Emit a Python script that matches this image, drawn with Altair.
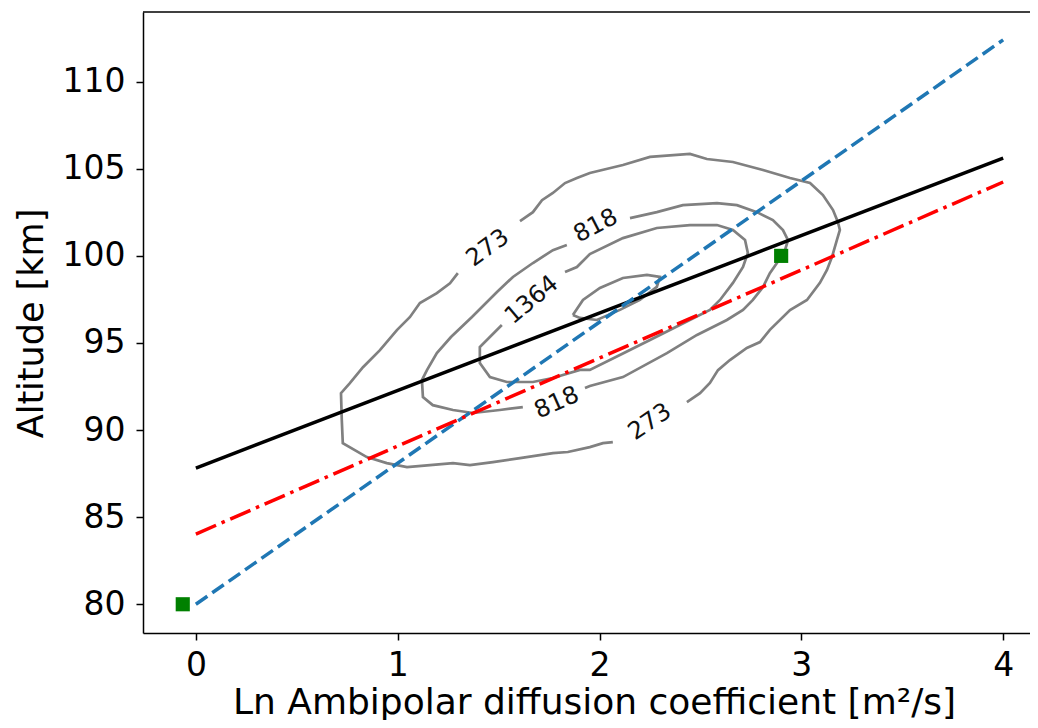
import altair as alt
import pandas as pd

# ---- axis ranges ----
X_MIN, X_MAX = -0.262, 4.133
Y_MIN, Y_MAX = 78.35, 114.0
x_ticks = [0, 1, 2, 3, 4]
y_ticks = [80, 85, 90, 95, 100, 105, 110]

# ---- fitted lines ----
line_x = [0.0, 4.0]
black_y = [87.82, 105.61]
red_y = [84.03, 104.24]
blue_y = [80.0, 112.4]

# ---- green square markers ----
green_x = [-0.065, 2.9]
green_y = [80.0, 100.0]

# ---- contour level 273 (outer), two pieces split by labels ----
c273a_x = [1.606, 1.670, 1.715, 1.769, 1.829, 1.888, 1.952, 2.116, 2.250, 2.448, 2.532, 2.661,
           2.810, 2.944, 3.043, 3.107, 3.157, 3.181, 3.191, 3.176, 3.152, 3.127, 3.092, 3.028,
           2.944, 2.844, 2.795, 2.730, 2.646, 2.587, 2.547, 2.498, 2.433]
c273a_y = [102.00, 102.51, 103.20, 103.61, 104.18, 104.47, 104.76, 105.22, 105.68, 105.85, 105.56,
           105.39, 104.93, 104.47, 104.18, 103.49, 102.63, 101.95, 101.49, 100.91, 99.94, 99.19,
           98.45, 97.47, 96.89, 95.75, 95.05, 94.71, 94.02, 93.44, 92.70, 92.12, 91.61]
c273b_x = [2.066, 2.017, 1.952, 1.843, 1.769, 1.606, 1.472, 1.358, 1.274, 1.160, 1.046, 0.946,
           0.847, 0.728, 0.723, 0.719, 0.763, 0.828, 0.912, 0.996, 1.060, 1.110, 1.194, 1.259, 1.298]
c273b_y = [89.31, 89.25, 89.02, 88.74, 88.68, 88.39, 88.16, 87.99, 88.10, 87.99, 87.87, 88.10,
           88.45, 89.25, 90.57, 92.12, 92.70, 93.61, 94.59, 95.74, 96.48, 97.29, 97.86, 98.43, 99.01]

# ---- contour level 818, two pieces ----
c818a_x = [2.151, 2.284, 2.413, 2.582, 2.681, 2.780, 2.859, 2.909, 2.934, 2.919, 2.879, 2.844,
           2.810, 2.760, 2.711, 2.631, 2.483, 2.334, 2.116, 1.952, 1.928]
c818a_y = [102.17, 102.51, 102.91, 103.03, 102.91, 102.51, 102.05, 101.48, 100.91, 100.33, 99.59,
           99.01, 98.21, 97.47, 96.90, 96.32, 95.46, 94.42, 93.04, 92.53, 92.41]
c818b_x = [1.620, 1.506, 1.373, 1.274, 1.174, 1.125, 1.120, 1.145, 1.194, 1.264, 1.368, 1.492,
           1.571, 1.670, 1.769, 1.838]
c818b_y = [91.32, 91.15, 90.98, 91.15, 91.43, 91.89, 92.87, 93.44, 94.42, 95.34, 96.49, 97.93,
           98.79, 99.59, 100.33, 100.62]

# ---- contour level 1364 ----
c1364_x = [1.829, 1.888, 1.952, 2.116, 2.284, 2.448, 2.582, 2.661, 2.721, 2.735, 2.711, 2.661,
           2.597, 2.547, 2.398, 2.250, 2.101, 1.952, 1.903, 1.769, 1.670, 1.541, 1.457, 1.407,
           1.407, 1.516]
c1364_y = [99.07, 99.36, 100.10, 101.02, 101.60, 101.77, 101.77, 101.49, 100.91, 100.17, 99.36,
           98.45, 97.47, 96.90, 96.03, 95.17, 94.31, 93.45, 93.45, 92.99, 92.76, 92.76, 93.04,
           93.85, 94.76, 96.03]

# ---- innermost (unlabelled) contour ----
cin_x = [1.868, 1.918, 2.002, 2.116, 2.235, 2.299, 2.284, 2.200, 2.101, 1.987, 1.903, 1.868]
cin_y = [96.61, 97.47, 98.16, 98.73, 98.91, 98.79, 98.22, 97.47, 96.90, 96.32, 96.44, 96.61]

# ---- contour labels ----
lab_text = ["273", "818", "1364", "818", "273"]
lab_x = [1.447, 1.982, 1.665, 1.789, 2.250]
lab_y = [100.45, 101.71, 97.46, 91.55, 90.46]
lab_angle = [324, 333, 320, 336, 326]

# ---------------- build tables ----------------
lines_df = pd.DataFrame({"x": line_x + line_x + line_x,
                         "y": black_y + red_y + blue_y,
                         "s": ["black"] * 2 + ["red"] * 2 + ["blue"] * 2})
green_df = pd.DataFrame({"x": green_x, "y": green_y})

rows = []
for name, xs, ys in [("273a", c273a_x, c273a_y), ("273b", c273b_x, c273b_y),
                     ("818a", c818a_x, c818a_y), ("818b", c818b_x, c818b_y),
                     ("1364", c1364_x, c1364_y), ("inner", cin_x, cin_y)]:
    for i, (a, b) in enumerate(zip(xs, ys)):
        rows.append({"seg": name, "i": i, "x": a, "y": b})
cont_df = pd.DataFrame(rows)
lab_df = pd.DataFrame({"t": lab_text, "x": lab_x, "y": lab_y, "a": lab_angle})
top_df = pd.DataFrame({"y": [Y_MAX]})

FONT = "DejaVu Sans"

xenc = alt.X("x:Q",
             scale=alt.Scale(domain=[X_MIN, X_MAX], nice=False, zero=False),
             axis=alt.Axis(values=x_ticks, format="d", grid=False,
                           title="Ln Ambipolar diffusion coefficient [m²/s]",
                           labelFontSize=33, titleFontSize=36, labelPadding=9,
                           tickSize=7, tickWidth=1.5, domainWidth=1.5,
                           titleX=451, titleY=80, titleBaseline="alphabetic",
                           titleAlign="center", labelFlush=False))
yenc = alt.Y("y:Q",
             scale=alt.Scale(domain=[Y_MIN, Y_MAX], nice=False, zero=False),
             axis=alt.Axis(values=y_ticks, format="d", grid=False, title="Altitude [km]",
                           labelFontSize=33, titleFontSize=35, labelPadding=11,
                           tickSize=7, tickWidth=1.5, domainWidth=1.5,
                           titleAngle=270, titleX=-101, titleY=311,
                           titleBaseline="alphabetic", titleAlign="center",
                           labelFlush=False))

contours = alt.Chart(cont_df).mark_line(color="#808080", strokeWidth=2.7).encode(
    x=xenc, y=yenc, detail="seg:N", order="i:Q")

labels = alt.Chart(lab_df).mark_text(font=FONT, fontSize=24, color="#111111",
                                     align="center", baseline="middle").encode(
    x=xenc, y=yenc, text="t:N", angle=alt.Angle("a:Q", scale=None))

black = alt.Chart(lines_df).transform_filter(alt.datum.s == "black").mark_line(
    color="black", strokeWidth=3.5).encode(x=xenc, y=yenc)
blue = alt.Chart(lines_df).transform_filter(alt.datum.s == "blue").mark_line(
    color="#1f77b4", strokeWidth=3.5, strokeDash=[14, 6]).encode(x=xenc, y=yenc)
red = alt.Chart(lines_df).transform_filter(alt.datum.s == "red").mark_line(
    color="#ff0000", strokeWidth=3.5, strokeDash=[22, 6, 3.5, 6]).encode(x=xenc, y=yenc)

green = alt.Chart(green_df).mark_point(shape="square", filled=True, size=200,
                                       color="#008000", opacity=1).encode(x=xenc, y=yenc)

top = alt.Chart(top_df).mark_rule(color="black", strokeWidth=1.5).encode(y=yenc)

chart = alt.layer(contours, labels, black, blue, red, green, top).properties(
    width=887, height=621,
    autosize=alt.AutoSizeParams(type="none"),
    padding={"left": 135, "top": 4, "right": 0, "bottom": 87},
).configure_view(stroke=None).configure_axis(
    labelFont=FONT, titleFont=FONT, labelColor="black", titleColor="black",
    tickColor="black", domainColor="black", titleFontWeight="normal"
)

chart.save("out.html", embed_options={"renderer": "svg", "actions": False})
